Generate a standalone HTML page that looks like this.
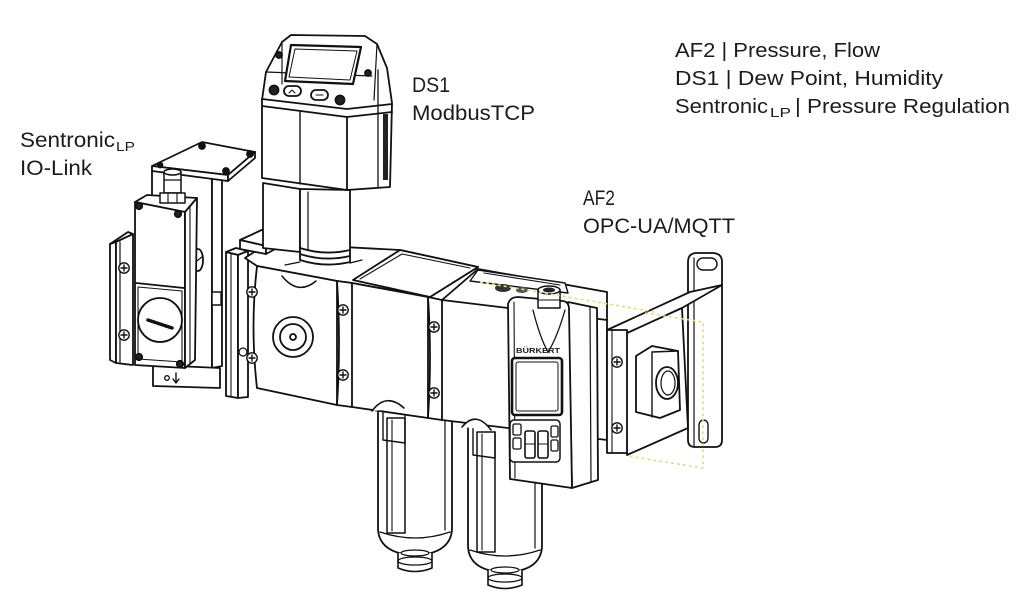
<!DOCTYPE html>
<html><head><meta charset="utf-8">
<style>
html,body{margin:0;padding:0;background:#fff;}
svg{display:block;}
text{font-family:"Liberation Sans",Arial,sans-serif;fill:#1c1c1c;}
</style></head><body>
<svg width="1024" height="606" viewBox="0 0 1024 606" xmlns="http://www.w3.org/2000/svg">
<defs>
<g id="scr"><circle r="5.2" fill="#fff" stroke="#111" stroke-width="1.4"/><path d="M-3,0H3M0,-3V3" stroke="#111" stroke-width="1.4"/></g>
</defs>

<!-- Labels -->
<text x="20" y="147" font-size="21" textLength="95" lengthAdjust="spacingAndGlyphs">Sentronic</text>
<text x="116" y="151" font-size="13" textLength="19" lengthAdjust="spacingAndGlyphs">LP</text>
<text x="20" y="175" font-size="21" textLength="72" lengthAdjust="spacingAndGlyphs">IO-Link</text>
<text x="412" y="92" font-size="21" textLength="38" lengthAdjust="spacingAndGlyphs">DS1</text>
<text x="412" y="120" font-size="21" textLength="123" lengthAdjust="spacingAndGlyphs">ModbusTCP</text>
<text x="583" y="205" font-size="21" textLength="32" lengthAdjust="spacingAndGlyphs">AF2</text>
<text x="583" y="233" font-size="21" textLength="152" lengthAdjust="spacingAndGlyphs">OPC-UA/MQTT</text>
<text x="675" y="57" font-size="20" textLength="205" lengthAdjust="spacingAndGlyphs">AF2 | Pressure, Flow</text>
<text x="675" y="85" font-size="20" textLength="268" lengthAdjust="spacingAndGlyphs">DS1 | Dew Point, Humidity</text>
<text x="675" y="113" font-size="20" textLength="93" lengthAdjust="spacingAndGlyphs">Sentronic</text>
<text x="770" y="117" font-size="13" textLength="21" lengthAdjust="spacingAndGlyphs">LP</text>
<text x="795" y="113" font-size="20" textLength="215" lengthAdjust="spacingAndGlyphs">| Pressure Regulation</text>

<g fill="#fff" stroke="#111" stroke-width="1.8" stroke-linejoin="round" stroke-linecap="round">

<!-- ===== Sentronic back box ===== -->
<polygon points="152,170 212,178 212,368 152,365"/>
<polygon points="212,178 222,176 222,366 212,368"/>
<polygon points="152,166 202,142 255,152 228,175"/>
<polygon points="152,166 228,175 228,181 152,171"/>
<polygon points="228,175 255,152 255,158 228,181"/>
<circle cx="202" cy="146" r="3" fill="#111"/>
<circle cx="250" cy="154" r="3" fill="#111"/>
<circle cx="226" cy="171" r="3" fill="#111"/>
<circle cx="160" cy="165" r="2.5" fill="#111"/>
<!-- bottom tab -->
<polygon points="153,365 220,368 220,388 153,386"/>
<circle cx="167" cy="378" r="2.3" fill="none" stroke-width="1.3"/>
<path d="M176,373v9M173,379l3,4 3,-4" fill="none" stroke-width="1.4"/>
<!-- oval screw -->
<ellipse cx="198" cy="260" rx="5" ry="11"/>
<line x1="194" y1="263" x2="202" y2="257" stroke-width="1.3"/>
<!-- nub -->
<rect x="212" y="292" width="9" height="13" stroke-width="1.4"/>

<!-- left plate -->
<polygon points="110,244 128,232 133,234 116,242"/>
<polygon points="110,244 116,242 116,363 110,360"/>
<polygon points="116,242 133,234 133,365 116,363"/>
<line x1="120" y1="242" x2="120" y2="363" stroke-width="1.2"/>
<use href="#scr" x="124" y="268"/>
<use href="#scr" x="124" y="335"/>

<!-- front box -->
<polygon points="135,202 147,195 197,198 185,212"/>
<polygon points="135,202 185,212 185,368 135,365"/>
<polygon points="185,212 197,198 195,360 185,368"/>
<line x1="190" y1="206" x2="190" y2="364" stroke-width="1.1"/>
<path d="M136,283 L184,288" fill="none"/>
<path d="M138,287 L182,291 L182,362 L138,359 Z" fill="none" stroke-width="1.1"/>
<circle cx="160" cy="320" r="22"/>
<line x1="148" y1="320" x2="172" y2="328" stroke-width="3.5"/>
<circle cx="139" cy="206" r="3.2" fill="#222"/>
<circle cx="178" cy="214" r="3.2" fill="#222"/>
<circle cx="139" cy="357" r="3.2" fill="#222"/>
<circle cx="180" cy="364" r="3.2" fill="#222"/>
<!-- connector -->
<rect x="164" y="172" width="17" height="21" stroke-width="1.5"/>
<ellipse cx="172.5" cy="172" rx="8.5" ry="3" stroke-width="1.5"/>
<line x1="164" y1="180" x2="181" y2="180" stroke-width="1.2"/>
<polygon points="160,193 185,193 185,203 160,203" stroke-width="1.5"/>
<line x1="168" y1="193" x2="168" y2="203" stroke-width="1.1"/>
<line x1="177" y1="193" x2="177" y2="203" stroke-width="1.1"/>

<!-- ===== main body left plate ===== -->
<polygon points="226,252 236,248 248,251 238,255"/>
<polygon points="226,252 238,255 238,398 226,396"/>
<polygon points="238,255 248,251 248,397 238,398"/>
<line x1="231" y1="254" x2="231" y2="396" stroke-width="1.1"/>
<circle cx="243" cy="352" r="4" stroke-width="1.3"/>

<!-- body top faces -->
<polygon points="245,258 268,243 400,250 478,267 430,297 352,283 337,281 257,266"/>
<polygon points="442,300 478,269 607,292 607,320 512,312"/>
<polygon points="478,270 565,283 568,293 470,281" stroke-width="1.4"/>
<path d="M484,273 L560,285" fill="none" stroke-width="1.1"/>
<ellipse cx="503" cy="288" rx="8" ry="4" fill="#333" stroke="none"/>
<ellipse cx="522" cy="290" rx="6" ry="3" fill="#555" stroke="none"/>
<!-- top bracket block -->
<polygon points="240,240 266,228 292,232 266,246"/>
<polygon points="240,240 266,246 266,254 240,249"/>
<polygon points="266,246 292,232 292,240 266,254"/>

<!-- stem -->
<polygon points="263,183 300,189 300,252 263,248"/>
<path d="M300,189 L300,260 Q325,268 350,262 L350,190 Z"/>
<path d="M300,248 Q325,256 350,250" fill="none"/>
<path d="M300,254 Q325,262 350,256" fill="none"/>
<line x1="308" y1="192" x2="308" y2="250" stroke-width="1.2"/>
<path d="M285,265 L300,262 M350,263 L362,260" fill="none" stroke-width="1.3"/>

<!-- ===== DS1 head ===== -->
<path d="M262,178 L262,100 L266,72 L282,42 L291,35 L365,36 L377,44 L387,68 L392,103 L390,187 L347,190 Z"/>
<path d="M262,99 L347,109 L392,104" fill="none"/>
<path d="M262,106 L347,117 L392,112" fill="none"/>
<line x1="347" y1="117" x2="347" y2="190"/>
<line x1="300" y1="112" x2="300" y2="184" stroke-width="1.4"/>
<line x1="378" y1="70" x2="378" y2="188" stroke-width="1.3"/>
<rect x="383" y="114" width="5" height="66" fill="#222" stroke="none"/>
<path d="M266,72 L372,76 M282,42 L282,84 M377,44 L374,100" fill="none" stroke-width="1.2"/>
<polygon points="291,45 361,47 353,84 285,81" stroke-width="2.2"/>
<polygon points="295,49 357,51 350,80 289,77" fill="none" stroke-width="1"/>
<circle cx="274" cy="90" r="4.5" fill="#222"/>
<circle cx="340" cy="100" r="4.5" fill="#222"/>
<circle cx="279" cy="55" r="3" fill="#222"/>
<circle cx="368" cy="73" r="3" fill="#222"/>
<rect x="284" y="86" width="17" height="10" rx="5"/>
<rect x="311" y="90" width="17" height="10" rx="5"/>
<path d="M289,93 l3,-3 3,3 M316,95 h7" fill="none" stroke-width="1.1"/>

<!-- ===== bowls ===== -->
<path d="M378,405 L378,528 C378,547 395,555 415,555 C435,555 452,547 452,528 L452,405 Z"/>
<line x1="445" y1="410" x2="445" y2="530" stroke-width="1.2"/>
<path d="M380,532 Q415,544 450,532" fill="none" stroke-width="1.3"/>
<rect x="387" y="418" width="18" height="115" stroke-width="1.5"/>
<line x1="392" y1="420" x2="392" y2="531" stroke-width="1.1"/>
<path d="M383,413 L383,440 L405,443 L405,415" fill="none" stroke-width="1.4"/>
<path d="M398,553 L398,568 Q415,575 432,568 L432,553" stroke-width="1.6"/>
<ellipse cx="415" cy="561" rx="17" ry="4" fill="none" stroke-width="1.3"/>
<ellipse cx="415" cy="553" rx="14" ry="3" fill="none" stroke-width="1.2"/>

<path d="M468,423 L468,545 C468,565 485,572 505,572 C525,572 542,565 542,545 L542,428 Z"/>
<line x1="535" y1="432" x2="535" y2="548" stroke-width="1.2"/>
<path d="M470,550 Q505,562 540,550" fill="none" stroke-width="1.3"/>
<rect x="477" y="432" width="18" height="120" stroke-width="1.5"/>
<line x1="482" y1="434" x2="482" y2="550" stroke-width="1.1"/>
<path d="M473,428 L473,455 L495,458 L495,432" fill="none" stroke-width="1.4"/>
<path d="M488,570 L488,585 Q505,592 522,585 L522,570" stroke-width="1.6"/>
<ellipse cx="505" cy="578" rx="17" ry="4" fill="none" stroke-width="1.3"/>
<ellipse cx="505" cy="570" rx="14" ry="3" fill="none" stroke-width="1.2"/>

<!-- ===== body front faces ===== -->
<path d="M257,266 L337,281 L337,405 L257,388 Q250,327 257,266 Z"/>
<path d="M337,281 L352,283 Q356,345 352,407 L337,405 Q341,343 337,281 Z"/>
<polygon points="352,283 428,297 428,418 352,407"/>
<path d="M428,297 L442,300 Q446,360 442,420 L428,418 Q432,357 428,297 Z"/>
<polygon points="442,300 607,320 607,440 442,420"/>
<path d="M282,276 Q298,296 316,281" fill="none" stroke-width="1.5"/>
<polygon points="353,280 400,250 478,267 430,297"/>
<path d="M360,279 L402,254 L470,268" fill="none" stroke-width="1.1"/>
<circle cx="293" cy="337" r="20"/>
<circle cx="293" cy="337" r="13"/>
<circle cx="293" cy="337" r="3"/>
<use href="#scr" x="252" y="292"/>
<use href="#scr" x="252" y="358"/>
<use href="#scr" x="343" y="310"/>
<use href="#scr" x="343" y="375"/>
<use href="#scr" x="434" y="327"/>
<use href="#scr" x="434" y="393"/>
<!-- domes -->
<path d="M372,411 Q386,392 404,408" stroke-width="1.6"/>
<path d="M462,427 Q476,410 491,430" stroke-width="1.6"/>

<!-- ===== AF2 module ===== -->
<polygon points="568,302 597,308 598,480 572,488"/>
<line x1="590" y1="307" x2="591" y2="482" stroke-width="1.2"/>
<path d="M508,304 Q510,297 518,297 L563,301 Q569,302 569,309 L572,488 L510,479 Z"/>
<line x1="514" y1="302" x2="515" y2="478" stroke-width="1.1"/>
<rect x="538" y="290" width="22" height="18" stroke-width="1.5"/>
<ellipse cx="549" cy="290" rx="11" ry="4" stroke-width="1.5"/>
<ellipse cx="549" cy="290" rx="6" ry="2.5" fill="#222" stroke="none"/>
<line x1="538" y1="300" x2="560" y2="300" stroke-width="1.1"/>
<path d="M533,310 Q540,338 548,352 Q557,338 565,310" fill="none" stroke-width="1.3"/>
<rect x="512" y="358" width="50" height="57" rx="3" stroke-width="2.6"/>
<rect x="516" y="362" width="42" height="49" rx="2" fill="none" stroke-width="1"/>
<rect x="510" y="420" width="50" height="42" rx="4" stroke-width="1.5"/>
<rect x="513" y="424" width="8" height="11" rx="1.5" stroke-width="1.3"/>
<rect x="513" y="438" width="8" height="11" rx="1.5" stroke-width="1.3"/>
<rect x="525" y="431" width="10" height="27" rx="2" stroke-width="1.6"/>
<rect x="538" y="431" width="10" height="27" rx="2" stroke-width="1.6"/>
<line x1="525" y1="444" x2="535" y2="444" stroke-width="1.1"/>
<line x1="538" y1="444" x2="548" y2="444" stroke-width="1.1"/>
<rect x="551" y="426" width="7" height="11" rx="1.5" stroke-width="1.3"/>
<rect x="551" y="440" width="7" height="11" rx="1.5" stroke-width="1.3"/>

<!-- ===== right flange & bracket ===== -->
<path d="M688,440 L688,262 Q688,253 697,253 L712,253 Q722,253 722,262 L722,440 Q722,447 715,447 L695,447 Q688,447 688,440 Z"/>
<line x1="694" y1="258" x2="694" y2="446" stroke-width="1.2"/>
<rect x="697" y="258" width="20" height="12" rx="6" stroke-width="1.4"/>
<rect x="699" y="420" width="9" height="23" rx="4.5" stroke-width="1.4"/>
<polygon points="607,330 690,292 722,285 682,308 625,334"/>
<polygon points="625,334 682,308 688,428 627,455"/>
<rect x="607" y="330" width="20" height="123"/>
<line x1="612" y1="331" x2="612" y2="452" stroke-width="1.1"/>
<use href="#scr" x="617" y="362"/>
<use href="#scr" x="617" y="428"/>
<polygon points="636,356 652,346 678,351 680,410 660,418 636,412" stroke-width="1.8"/>
<path d="M652,352 L678,351 M652,352 L652,417" fill="none" stroke-width="1.4"/>
<ellipse cx="667" cy="383" rx="11" ry="16" stroke-width="1.8"/>
<ellipse cx="668" cy="383" rx="7" ry="12" fill="none" stroke-width="1.2"/>
</g>

<!-- brand text on module -->
<text x="516" y="353" font-size="7" font-weight="bold" textLength="44" lengthAdjust="spacingAndGlyphs" fill="#222">BÜRKERT</text>

<!-- yellow dashed hidden lines -->
<g fill="none" stroke="#e3df7a" stroke-width="1.6" stroke-dasharray="3,3">
<polyline points="645,313 703,322 703,468 628,456"/>
<line x1="480" y1="282" x2="655" y2="312"/>
</g>
</svg>
</body></html>
